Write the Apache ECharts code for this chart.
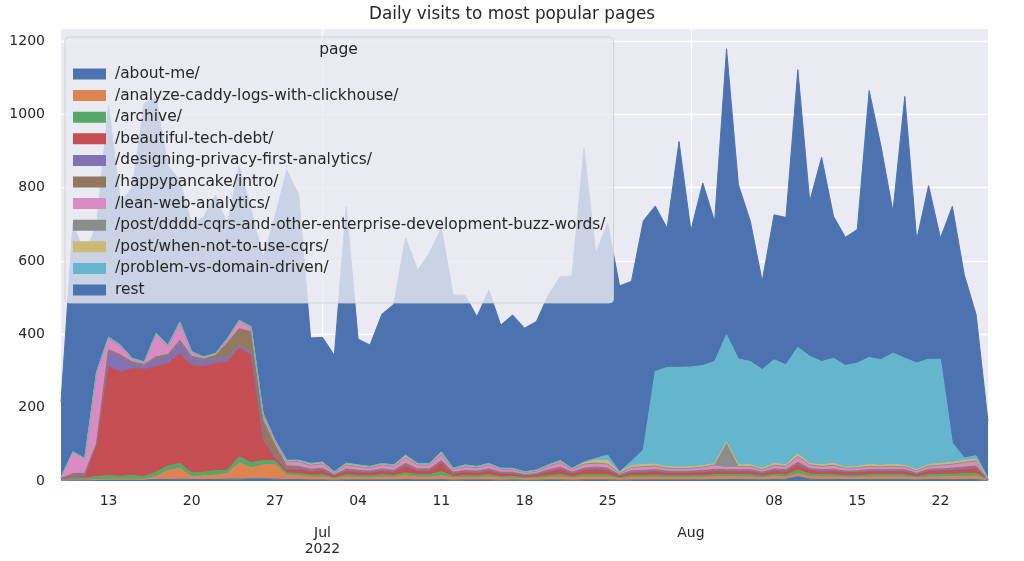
<!DOCTYPE html>
<html><head><meta charset="utf-8">
<script src="https://cdn.jsdelivr.net/npm/echarts@6/dist/echarts.min.js"></script>
<style>html,body{margin:0;padding:0;background:#fff}#c{width:1024px;height:561px}</style>
</head><body><div id="c"></div>
<script>
const chartTitle = 'Daily visits to most popular pages';
const legendTitle = 'page';
const firstDay = [2022, 5, 9];   // 2022-06-09
const dayCount = 79;             // through 2022-08-26
const pageNames = ['/about-me/', '/analyze-caddy-logs-with-clickhouse/', '/archive/', '/beautiful-tech-debt/',
  '/designing-privacy-first-analytics/', '/happypancake/intro/', '/lean-web-analytics/',
  '/post/dddd-cqrs-and-other-enterprise-development-buzz-words/', '/post/when-not-to-use-cqrs/',
  '/problem-vs-domain-driven/', 'rest'];
const pageColors = ['#4C72B0','#DD8452','#55A868','#C44E52','#8172B3','#937860','#DA8BC3','#8C8C8C','#CCB974','#64B5CD','#4C72B0'];
const yTicks = [0, 200, 400, 600, 800, 1000, 1200];

const aboutMe = [2,3,3,3,3,3,3,3,4,4, 5,4,4,4,5,5,6,6,5,4, 4,3,3,2,3,3,3,3,3,4, 3,3,4,2,3,3,3,2,3,2, 2,3,3,2,3,3,3,2,3,3, 3,3,3,3,3,4,4,4,4,3, 4,5,12,5,4,4,4,4,4,4, 4,4,3,4,4,4,4,4,1];
const analyzeCaddy = [0,0,0,1,2,2,2,2,8,25, 30,8,10,12,15,45,30,38,40,12, 10,8,8,4,8,7,6,8,7,10, 8,7,10,6,7,6,8,6,5,4, 5,7,8,6,8,8,8,4,7,7, 7,6,6,6,7,7,8,7,7,5, 8,6,8,7,7,7,6,6,7,7, 7,7,5,7,7,8,8,9,1];
const archive = [2,6,5,8,10,8,10,7,12,12, 13,10,10,12,10,16,14,12,10,6, 6,5,6,3,6,5,5,6,5,8, 6,7,12,4,5,5,6,4,5,3, 4,5,7,4,6,7,6,3,5,5, 6,5,5,5,5,6,6,6,6,5, 6,6,10,7,6,6,5,5,6,6, 6,6,4,6,7,7,8,8,1];
const beautifulTechDebt = [1,3,4,86,297,285,292,293,288,280, 300,294,288,293,295,296,294,56,8,10, 12,10,12,5,10,9,8,10,9,18, 10,11,22,7,9,8,11,8,7,5, 6,10,14,8,12,14,12,5,8,9, 10,8,8,8,9,10,8,9,9,7, 10,9,14,10,9,10,8,8,9,9, 9,9,6,10,10,11,12,14,1];
const designingPrivacy = [1,4,5,3,41,40,12,10,22,18, 30,20,15,12,12,8,5,5,5,3, 3,2,2,1,2,2,2,2,2,3, 2,2,3,2,2,2,2,2,2,1, 1,2,2,2,2,2,2,1,2,2, 2,2,2,2,2,2,2,2,2,2, 2,2,3,2,2,2,2,2,2,2, 2,2,1,2,2,2,2,2,0];
const happypancake = [1,4,4,2,5,6,6,3,5,6, 6,4,6,10,40,46,58,49,30,6, 5,4,4,2,4,3,3,4,3,5, 4,3,5,3,3,3,3,2,2,2, 2,3,4,2,4,4,4,2,3,3, 3,3,2,3,3,3,3,3,3,2, 3,3,4,3,3,3,2,3,3,3, 3,3,2,3,3,3,4,4,0];
const leanWeb = [2,58,38,192,30,23,7,4,60,22, 46,10,3,2,8,20,10,15,10,10, 12,10,11,5,10,9,8,10,10,15, 10,10,16,7,9,8,10,7,7,5, 6,9,12,7,10,10,10,4,8,9, 9,7,7,7,8,9,6,7,7,6, 9,8,14,9,8,10,7,7,8,7, 8,7,6,8,9,10,11,12,1];
const ddddCqrs = [0,1,1,1,2,1,1,1,1,1, 1,1,1,1,1,1,1,1,1,1, 1,1,1,1,1,1,1,1,1,1, 1,1,1,1,1,1,1,1,1,1, 1,1,1,1,1,1,1,1,1,1, 1,1,1,1,1,3,65,2,2,1, 1,1,2,1,1,1,1,1,1,1, 1,1,1,1,1,1,2,2,0];
const whenNotCqrs = [0,0,1,1,2,2,1,1,2,2, 2,1,1,1,2,1,2,2,2,3, 3,4,4,2,4,4,3,3,3,5, 3,3,5,2,4,3,3,2,2,2, 2,3,4,2,4,8,10,2,5,6, 5,4,4,4,4,4,5,4,4,4, 5,4,7,4,4,5,3,4,5,4, 5,4,3,4,5,5,5,5,1];
const problemVsDomain = [1,1,1,1,1,1,1,1,1,1, 1,1,1,1,1,1,1,1,1,2, 1,1,1,0,1,1,1,1,1,2, 1,1,2,1,1,1,1,1,1,0, 1,1,1,1,2,5,15,1,12,40, 253,271,272,272,273,278,292,289,282,269, 283,273,291,292,282,287,277,282,292,288, 304,292,291,287,284,53,7,9,2];
const rest = [205,620,558,402,632,389,465,705,642,489, 386,347,381,432,311,421,319,425,608,791, 723,342,340,318,699,343,331,407,438,592, 527,573,610,472,463,408,473,390,418,392, 405,463,501,524,855,559,632,507,491,625, 451,380,616,372,498,382,780,475,383,241, 395,402,757,423,557,387,350,364,728,582, 386,714,336,474,331,645,500,385,155];

const pageValues = [aboutMe, analyzeCaddy, archive, beautifulTechDebt, designingPrivacy, happypancake,
  leanWeb, ddddCqrs, whenNotCqrs, problemVsDomain, rest];

const dates = [];
for (let i = 0; i < dayCount; i++) {
  dates.push(new Date(Date.UTC(firstDay[0], firstDay[1], firstDay[2] + i)).toISOString().slice(0, 10));
}
const monthNames = ['Jan','Feb','Mar','Apr','May','Jun','Jul','Aug','Sep','Oct','Nov','Dec'];
function parseDay(v) { return new Date(v + 'T00:00:00Z'); }
function isMonthStart(v) { return parseDay(v).getUTCDate() === 1; }
function isLabelDay(v) { const d = parseDay(v); return d.getUTCDay() === 1 || d.getUTCDate() === 1; }

const FONT = '"DejaVu Sans", sans-serif';
const TXT = '#262626';

const series = pageNames.map((name, k) => ({
  name: name,
  type: 'line',
  stack: 'visits',
  data: pageValues[k],
  symbol: 'none',
  smooth: false,
  lineStyle: { width: 1, color: pageColors[k] },
  itemStyle: { color: pageColors[k] },
  areaStyle: { color: pageColors[k], opacity: 1 },
  emphasis: { disabled: true },
  z: 2
}));

const chart = echarts.init(document.getElementById('c'), null, { renderer: 'canvas' });
chart.setOption({
  animation: false,
  backgroundColor: '#ffffff',
  title: {
    text: chartTitle, left: 'center', top: 6, padding: 0,
    textStyle: { fontFamily: FONT, fontSize: 16.8, fontWeight: 'normal', color: TXT }
  },
  grid: { left: 61, right: 36, top: 29, bottom: 80, show: true, backgroundColor: '#EAEAF2', borderWidth: 0 },
  legend: {
    orient: 'vertical', left: 65, top: 37,
    padding: [29, 8, 5, 8],
    itemWidth: 33, itemHeight: 11, itemGap: 5.6,
    icon: 'rect',
    selectedMode: false,
    backgroundColor: 'rgba(234,234,242,0.8)',
    borderColor: 'rgba(204,204,204,0.8)', borderWidth: 1, borderRadius: 4,
    textStyle: { fontFamily: FONT, fontSize: 15.4, color: TXT, lineHeight: 16, padding: [0, 0, 0, 4] },
    data: pageNames.map((n, k) => ({ name: n, itemStyle: { color: pageColors[k] } }))
  },
  graphic: [{
    type: 'text', x: 338.5, y: 50, z: 100, silent: true,
    style: { text: legendTitle, fill: TXT, font: '15.5px "DejaVu Sans"', align: 'center', verticalAlign: 'middle', textAlign: 'center', textVerticalAlign: 'middle' }
  }],
  xAxis: {
    type: 'category', data: dates, boundaryGap: false,
    axisLine: { show: false }, axisTick: { show: false },
    axisLabel: {
      interval: (i, v) => isLabelDay(v),
      formatter: (v) => {
        const d = parseDay(v);
        if (d.getUTCDate() === 1) {
          const m = monthNames[d.getUTCMonth()];
          return d.getUTCMonth() === 6 ? '\n\n' + m + '\n' + d.getUTCFullYear() : '\n\n' + m;
        }
        return String(d.getUTCDate()).padStart(2, '0');
      },
      fontFamily: FONT, fontSize: 14, color: TXT, lineHeight: 16, margin: 12
    },
    splitLine: { show: true, interval: (i, v) => isMonthStart(v), lineStyle: { color: '#ffffff', width: 1.3 } }
  },
  yAxis: {
    type: 'value', min: yTicks[0], max: 1233, interval: yTicks[1] - yTicks[0],
    axisLine: { show: false }, axisTick: { show: false },
    axisLabel: { fontFamily: FONT, fontSize: 14, color: TXT, margin: 16, showMaxLabel: false, formatter: (v) => String(v) },
    splitLine: { show: true, showMaxLine: false, lineStyle: { color: '#ffffff', width: 1.3 } }
  },
  series: series
});
</script>
</body></html>
